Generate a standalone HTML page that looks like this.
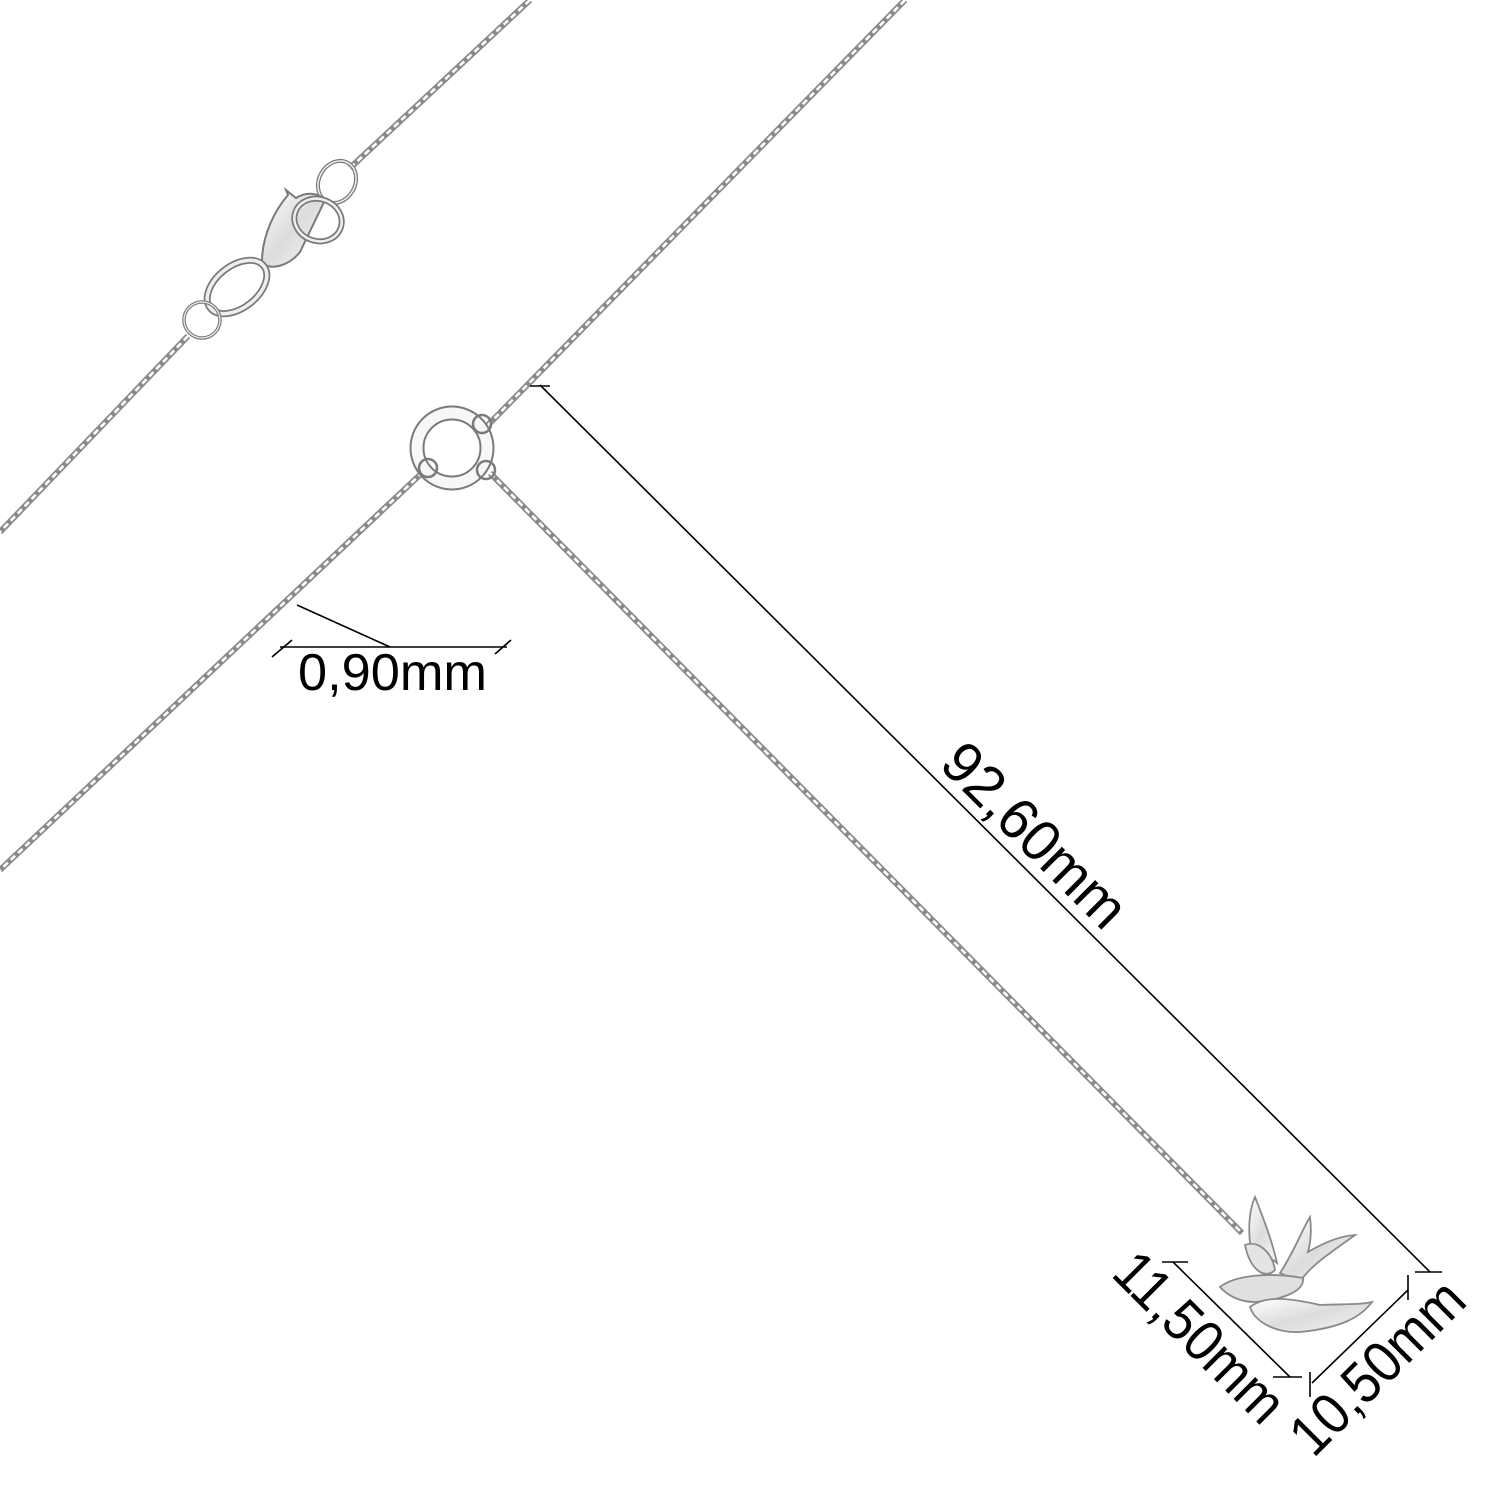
<!DOCTYPE html>
<html><head><meta charset="utf-8"><style>
html,body{margin:0;padding:0;background:#fff;}
svg{display:block;}
text{font-family:"Liberation Sans",sans-serif;fill:#000;}
</style></head><body>
<svg width="1500" height="1500" viewBox="0 0 1500 1500" xmlns="http://www.w3.org/2000/svg">
<defs>
<linearGradient id="silv" x1="0" y1="0" x2="1" y2="1">
<stop offset="0" stop-color="#ffffff"/><stop offset="0.5" stop-color="#dcdcdc"/><stop offset="1" stop-color="#f6f6f6"/>
</linearGradient>
</defs>
<rect width="1500" height="1500" fill="#fff"/>

<!-- chains -->
<g fill="none" stroke-linecap="butt">
 <g stroke="#8a8a8a" stroke-width="6">
  <line x1="530" y1="0" x2="350" y2="168"/>
  <line x1="188" y1="336" x2="0" y2="532"/>
  <line x1="905" y1="0" x2="488" y2="425"/>
  <line x1="423" y1="472" x2="0" y2="870"/>
  <line x1="490" y1="473" x2="1242" y2="1233"/>
 </g>
 <g stroke="#fff" stroke-width="2.6" stroke-dasharray="6 4">
  <line x1="530" y1="0" x2="350" y2="168"/>
  <line x1="188" y1="336" x2="0" y2="532"/>
  <line x1="905" y1="0" x2="488" y2="425"/>
  <line x1="423" y1="472" x2="0" y2="870"/>
  <line x1="490" y1="473" x2="1242" y2="1233"/>
 </g>
</g>

<!-- clasp -->
<g fill="none" stroke="#7a7a7a">
 <ellipse cx="337" cy="182" rx="18" ry="22" stroke-width="4" transform="rotate(30 337 182)"/>
 <ellipse cx="337" cy="182" rx="18" ry="22" stroke="#f0f0f0" stroke-width="1.5" transform="rotate(30 337 182)"/>
 <path d="M262 262 C262 235 275 210 288 195 L286 190 L296 198 C305 192 318 192 325 200 L300 252 C290 265 270 272 262 262 Z" fill="url(#silv)" stroke-width="2"/>
 <ellipse cx="318" cy="220" rx="24" ry="21" stroke-width="6" transform="rotate(20 318 220)"/>
 <ellipse cx="318" cy="220" rx="24" ry="21" stroke="#eee" stroke-width="2.5" transform="rotate(20 318 220)"/>
 <ellipse cx="237" cy="287" rx="34" ry="21" stroke-width="7" transform="rotate(-38 237 287)"/>
 <ellipse cx="237" cy="287" rx="34" ry="21" stroke="#eee" stroke-width="3.5" transform="rotate(-38 237 287)"/>
 <circle cx="202" cy="320" r="18" stroke-width="3.5"/>
 <circle cx="202" cy="320" r="18" stroke="#eee" stroke-width="1.2"/>
</g>

<!-- center ring -->
<g fill="none">
 <circle cx="452" cy="448" r="35" stroke="#7a7a7a" stroke-width="15"/>
 <circle cx="452" cy="448" r="35" stroke="#f7f7f7" stroke-width="11"/>
 <circle cx="482" cy="424" r="9" stroke="#7a7a7a" stroke-width="2.5"/>
 <circle cx="428" cy="468" r="9" stroke="#7a7a7a" stroke-width="2.5"/>
 <circle cx="486" cy="470" r="9" stroke="#7a7a7a" stroke-width="2.5"/>
</g>

<!-- bird -->
<g stroke="#8a8a8a" stroke-width="1.8" fill="url(#silv)">
 <path d="M1250 1243 C1248 1225 1250 1208 1255 1197 C1262 1215 1272 1240 1277 1263 Z"/>
 <path d="M1280 1273 C1295 1250 1302 1230 1310 1217 C1312 1232 1310 1245 1308 1252 C1325 1242 1340 1236 1355 1235 C1335 1250 1310 1265 1300 1282 Z"/>
 <path d="M1245 1245 C1258 1240 1272 1252 1275 1270 C1265 1280 1250 1270 1245 1245 Z" fill="#e4e4e4"/>
 <path d="M1220 1287 C1235 1275 1270 1272 1303 1278 C1305 1292 1280 1300 1255 1302 C1240 1302 1228 1296 1220 1287 Z" fill="#e0e0e0"/>
 <path d="M1250 1307 C1265 1295 1290 1298 1320 1305 C1340 1304 1360 1305 1372 1302 C1360 1318 1340 1328 1300 1332 C1275 1333 1255 1322 1250 1307 Z"/>
</g>

<!-- dimension lines -->
<g stroke="#000" stroke-width="1.6" fill="none">
 <line x1="540" y1="385" x2="1430" y2="1272"/>
 <line x1="530" y1="386" x2="550" y2="386"/>
 <line x1="1415" y1="1272" x2="1442" y2="1272"/>
 <line x1="297" y1="605" x2="390" y2="647"/>
 <line x1="280" y1="647" x2="507" y2="647"/>
 <line x1="272" y1="657" x2="292" y2="640"/>
 <line x1="495" y1="654" x2="511" y2="640"/>
 <line x1="1173" y1="1262" x2="1290" y2="1377"/>
 <line x1="1162" y1="1262" x2="1188" y2="1262"/>
 <line x1="1273" y1="1377" x2="1302" y2="1377"/>
 <line x1="1312" y1="1383" x2="1408" y2="1290"/>
 <line x1="1310" y1="1372" x2="1310" y2="1397"/>
 <line x1="1408" y1="1275" x2="1408" y2="1300"/>
</g>

<!-- labels -->
<text x="298" y="690" font-size="52" textLength="189" lengthAdjust="spacingAndGlyphs">0,90mm</text>
<text transform="translate(1035 835) rotate(45)" x="0" y="20" font-size="58" text-anchor="middle" textLength="235" lengthAdjust="spacingAndGlyphs">92,60mm</text>
<text transform="translate(1200 1337) rotate(45)" x="0" y="20" font-size="58" text-anchor="middle" textLength="215" lengthAdjust="spacingAndGlyphs">11,50mm</text>
<text transform="translate(1377 1367) rotate(-45)" x="0" y="20" font-size="58" text-anchor="middle" textLength="220" lengthAdjust="spacingAndGlyphs">10,50mm</text>
</svg>
</body></html>
